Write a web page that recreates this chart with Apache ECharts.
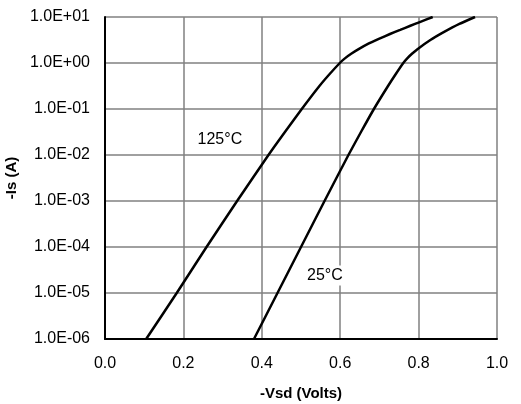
<!DOCTYPE html>
<html>
<head>
<meta charset="utf-8">
<script src="https://cdn.jsdelivr.net/npm/echarts@6/dist/echarts.min.js"></script>
</head>
<body style="margin:0">
<div id="container" style="width:521px;height:404px"></div>
<script>
// -Vsd (V) vs -Is (A)
var vsd125 = [0.105, 0.183, 0.259, 0.337, 0.417, 0.459, 0.502, 0.547, 0.572, 0.599, 0.612, 0.628, 0.647, 0.672, 0.700, 0.727, 0.753, 0.779, 0.803, 0.836];
var is125  = [1e-6, 1e-5, 1e-4, 1e-3, 1e-2, 3.16e-2, 1e-1, 0.316, 0.562, 1.0, 1.26, 1.585, 2.0, 2.63, 3.39, 4.27, 5.25, 6.46, 7.76, 10];
var vsd25  = [0.380, 0.440, 0.500, 0.560, 0.621, 0.653, 0.686, 0.722, 0.741, 0.761, 0.771, 0.783, 0.797, 0.830, 0.864, 0.904, 0.944];
var is25   = [1e-6, 1e-5, 1e-4, 1e-3, 1e-2, 3.16e-2, 1e-1, 0.316, 0.562, 1.0, 1.26, 1.585, 2.0, 3.16, 4.68, 7.08, 10];
var curveNames = ['125°C', '25°C'];
var labelAt = [[0.293, 0.0221], [0.561, 2.4e-5]];

function pairs(xs, ys) {
    return xs.map(function (x, i) { return [x, ys[i]]; });
}

function sci(v) {
    var e = Math.round(Math.log10(v));
    var s = e < 0 ? '-' : '+';
    var a = Math.abs(e);
    return '1.0E' + s + (a < 10 ? '0' : '') + a;
}

var font = 'Liberation Sans, Arial, sans-serif';

function curve(name, data, at) {
    return {
        name: name,
        type: 'line',
        data: data,
        symbol: 'none',
        smooth: 0.2,
        lineStyle: { color: '#000', width: 2.5 },
        markPoint: {
            symbol: 'circle',
            symbolSize: 0,
            data: [{ coord: at, value: name }],
            label: {
                show: true,
                position: 'inside',
                formatter: name,
                color: '#000',
                fontFamily: font,
                fontSize: 16,
                backgroundColor: '#fff',
                padding: [2, 3]
            }
        }
    };
}

var myChart = echarts.init(document.getElementById('container'));
var option = {
    backgroundColor: '#fff',
    animation: false,
    grid: { left: 105, right: 24, top: 17, bottom: 65, outerBoundsMode: 'none', containLabel: false },
    xAxis: {
        type: 'value',
        min: 0,
        max: 1,
        interval: 0.2,
        name: '-Vsd (Volts)',
        nameLocation: 'middle',
        nameGap: 47,
        nameTextStyle: { color: '#000', fontFamily: font, fontSize: 15, fontWeight: 'bold' },
        axisLine: { lineStyle: { color: '#000', width: 2 } },
        axisTick: { show: false },
        axisLabel: {
            color: '#000', fontFamily: font, fontSize: 16, margin: 17,
            formatter: function (v) { return v.toFixed(1); }
        },
        splitLine: { show: true, lineStyle: { color: '#808080', width: 1.5 } }
    },
    yAxis: {
        type: 'log',
        logBase: 10,
        min: 1e-6,
        max: 10,
        splitNumber: 7,
        name: '-Is (A)',
        nameLocation: 'middle',
        nameGap: 82,
        nameTextStyle: { color: '#000', fontFamily: font, fontSize: 15, fontWeight: 'bold' },
        axisLine: { show: true, lineStyle: { color: '#000', width: 2 } },
        axisTick: { show: false },
        axisLabel: { color: '#000', fontFamily: font, fontSize: 16, margin: 15, formatter: sci },
        splitLine: { show: true, lineStyle: { color: '#808080', width: 1.5 } }
    },
    series: [
        curve(curveNames[0], pairs(vsd125, is125), labelAt[0]),
        curve(curveNames[1], pairs(vsd25, is25), labelAt[1])
    ]
};
myChart.setOption(option);
</script>
</body>
</html>
